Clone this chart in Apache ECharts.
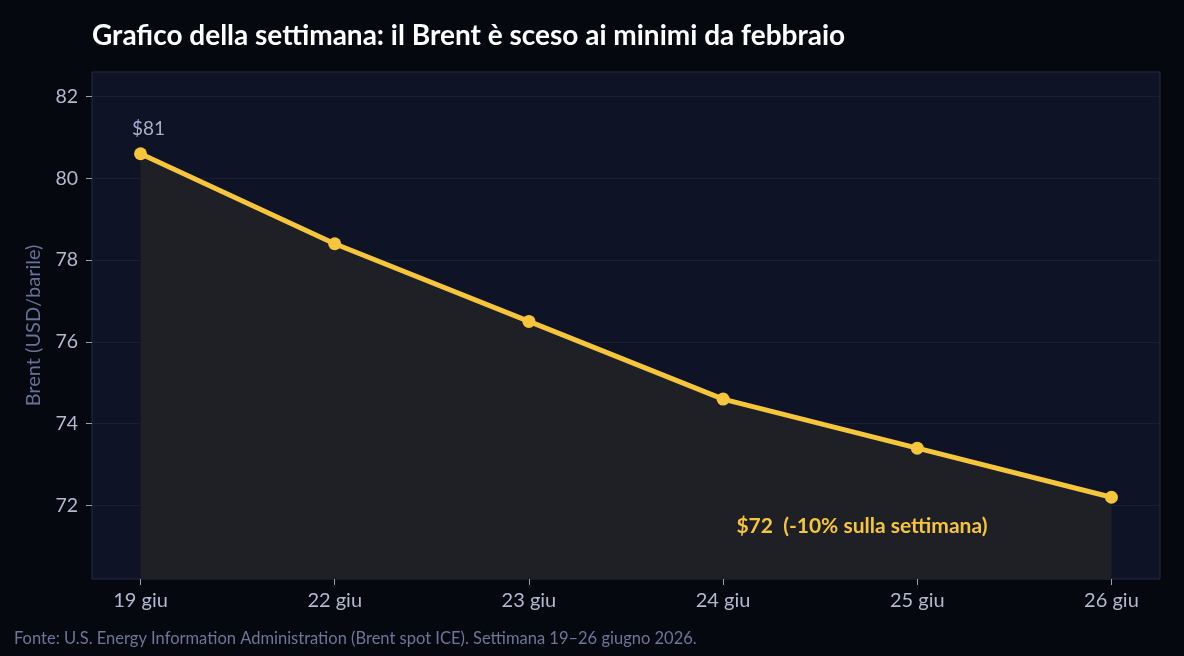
<!DOCTYPE html>
<html>
<head>
<meta charset="utf-8">
<style>
  html, body { margin: 0; padding: 0; background: #05080f; }
  #chart { width: 1184px; height: 656px; }
</style>
<script src="https://cdn.jsdelivr.net/npm/echarts@6/dist/echarts.min.js"></script>
</head>
<body>
<div id="chart"></div>
<script>
  // dati
  var days = ['19 giu', '22 giu', '23 giu', '24 giu', '25 giu', '26 giu'];
  var brent = [80.6, 78.4, 76.5, 74.6, 73.4, 72.2];
  var yTicks = [72, 74, 76, 78, 80, 82];

  var dayIdx = days.map(function (d, i) { return i; });
  var points = brent.map(function (v, i) { return [i, v]; });

  var myChart = echarts.init(document.getElementById('chart'));
  var option = {
    backgroundColor: '#05080f',
    textStyle: { fontFamily: 'Lato' },
    title: {
      text: 'Grafico della settimana: il Brent è sceso ai minimi da febbraio',
      left: 87,
      top: 17,
      textStyle: { color: '#ffffff', fontSize: 28, fontWeight: 'bold', fontFamily: 'Lato' }
    },
    graphic: [{
      type: 'text',
      left: 14,
      top: 630,
      style: {
        text: 'Fonte: U.S. Energy Information Administration (Brent spot ICE). Settimana 19–26 giugno 2026.',
        fill: '#6e7699',
        fontSize: 16.5,
        fontFamily: 'Lato'
      }
    }],
    grid: {
      left: 92,
      right: 24,
      top: 72,
      bottom: 77,
      show: true,
      backgroundColor: '#0e1325',
      borderColor: '#262b44',
      borderWidth: 1
    },
    xAxis: {
      type: 'value',
      min: -0.25,
      max: 5.25,
      axisLine: { show: false, onZero: false },
      splitLine: { show: false },
      axisTick: {
        show: true,
        length: 6,
        lineStyle: { color: '#9aa0bb' },
        customValues: dayIdx
      },
      axisLabel: {
        customValues: dayIdx,
        color: '#b4b9cf',
        fontSize: 20,
        margin: 12,
        formatter: function (v) { return days[v]; }
      }
    },
    yAxis: {
      type: 'value',
      min: 70.2,
      max: 82.6,
      name: 'Brent (USD/barile)',
      nameLocation: 'middle',
      nameGap: 48,
      nameTextStyle: { color: '#6a7198', fontSize: 20 },
      axisLine: { show: false, onZero: false },
      axisTick: {
        show: true,
        length: 6,
        lineStyle: { color: '#9aa0bb' },
        customValues: yTicks
      },
      axisLabel: {
        customValues: yTicks,
        color: '#b4b9cf',
        fontSize: 19.5,
        margin: 14
      },
      splitLine: { lineStyle: { color: '#1a1f33', width: 1 } }
    },
    series: [{
      type: 'line',
      data: points,
      symbol: 'circle',
      symbolSize: 13,
      lineStyle: { color: '#f5c63c', width: 5 },
      itemStyle: { color: '#f5c63c' },
      areaStyle: { color: '#1f1f26', opacity: 1, origin: 'start' },
      label: {
        show: true,
        position: 'top',
        distance: 9,
        offset: [8, 0],
        color: '#a9aed0',
        fontSize: 19,
        formatter: function (p) {
          if (p.dataIndex === 0) return '$' + Math.round(p.value[1]);
          return '';
        }
      },
      z: 3
    }, {
      // annotazione sull'ultimo punto
      type: 'scatter',
      data: [points[points.length - 1]],
      symbolSize: 0,
      silent: true,
      itemStyle: { opacity: 1 },
      label: {
        show: true,
        position: 'left',
        offset: [-119, 29],
        color: '#f5c63c',
        fontSize: 21,
        fontWeight: 'bold',
        formatter: function (p) {
          var pct = Math.round((brent[brent.length - 1] / brent[0] - 1) * 100);
          return '$' + Math.round(p.value[1]) + '  (' + pct + '% sulla settimana)';
        }
      },
      z: 4
    }]
  };
  myChart.setOption(option);
</script>
</body>
</html>
